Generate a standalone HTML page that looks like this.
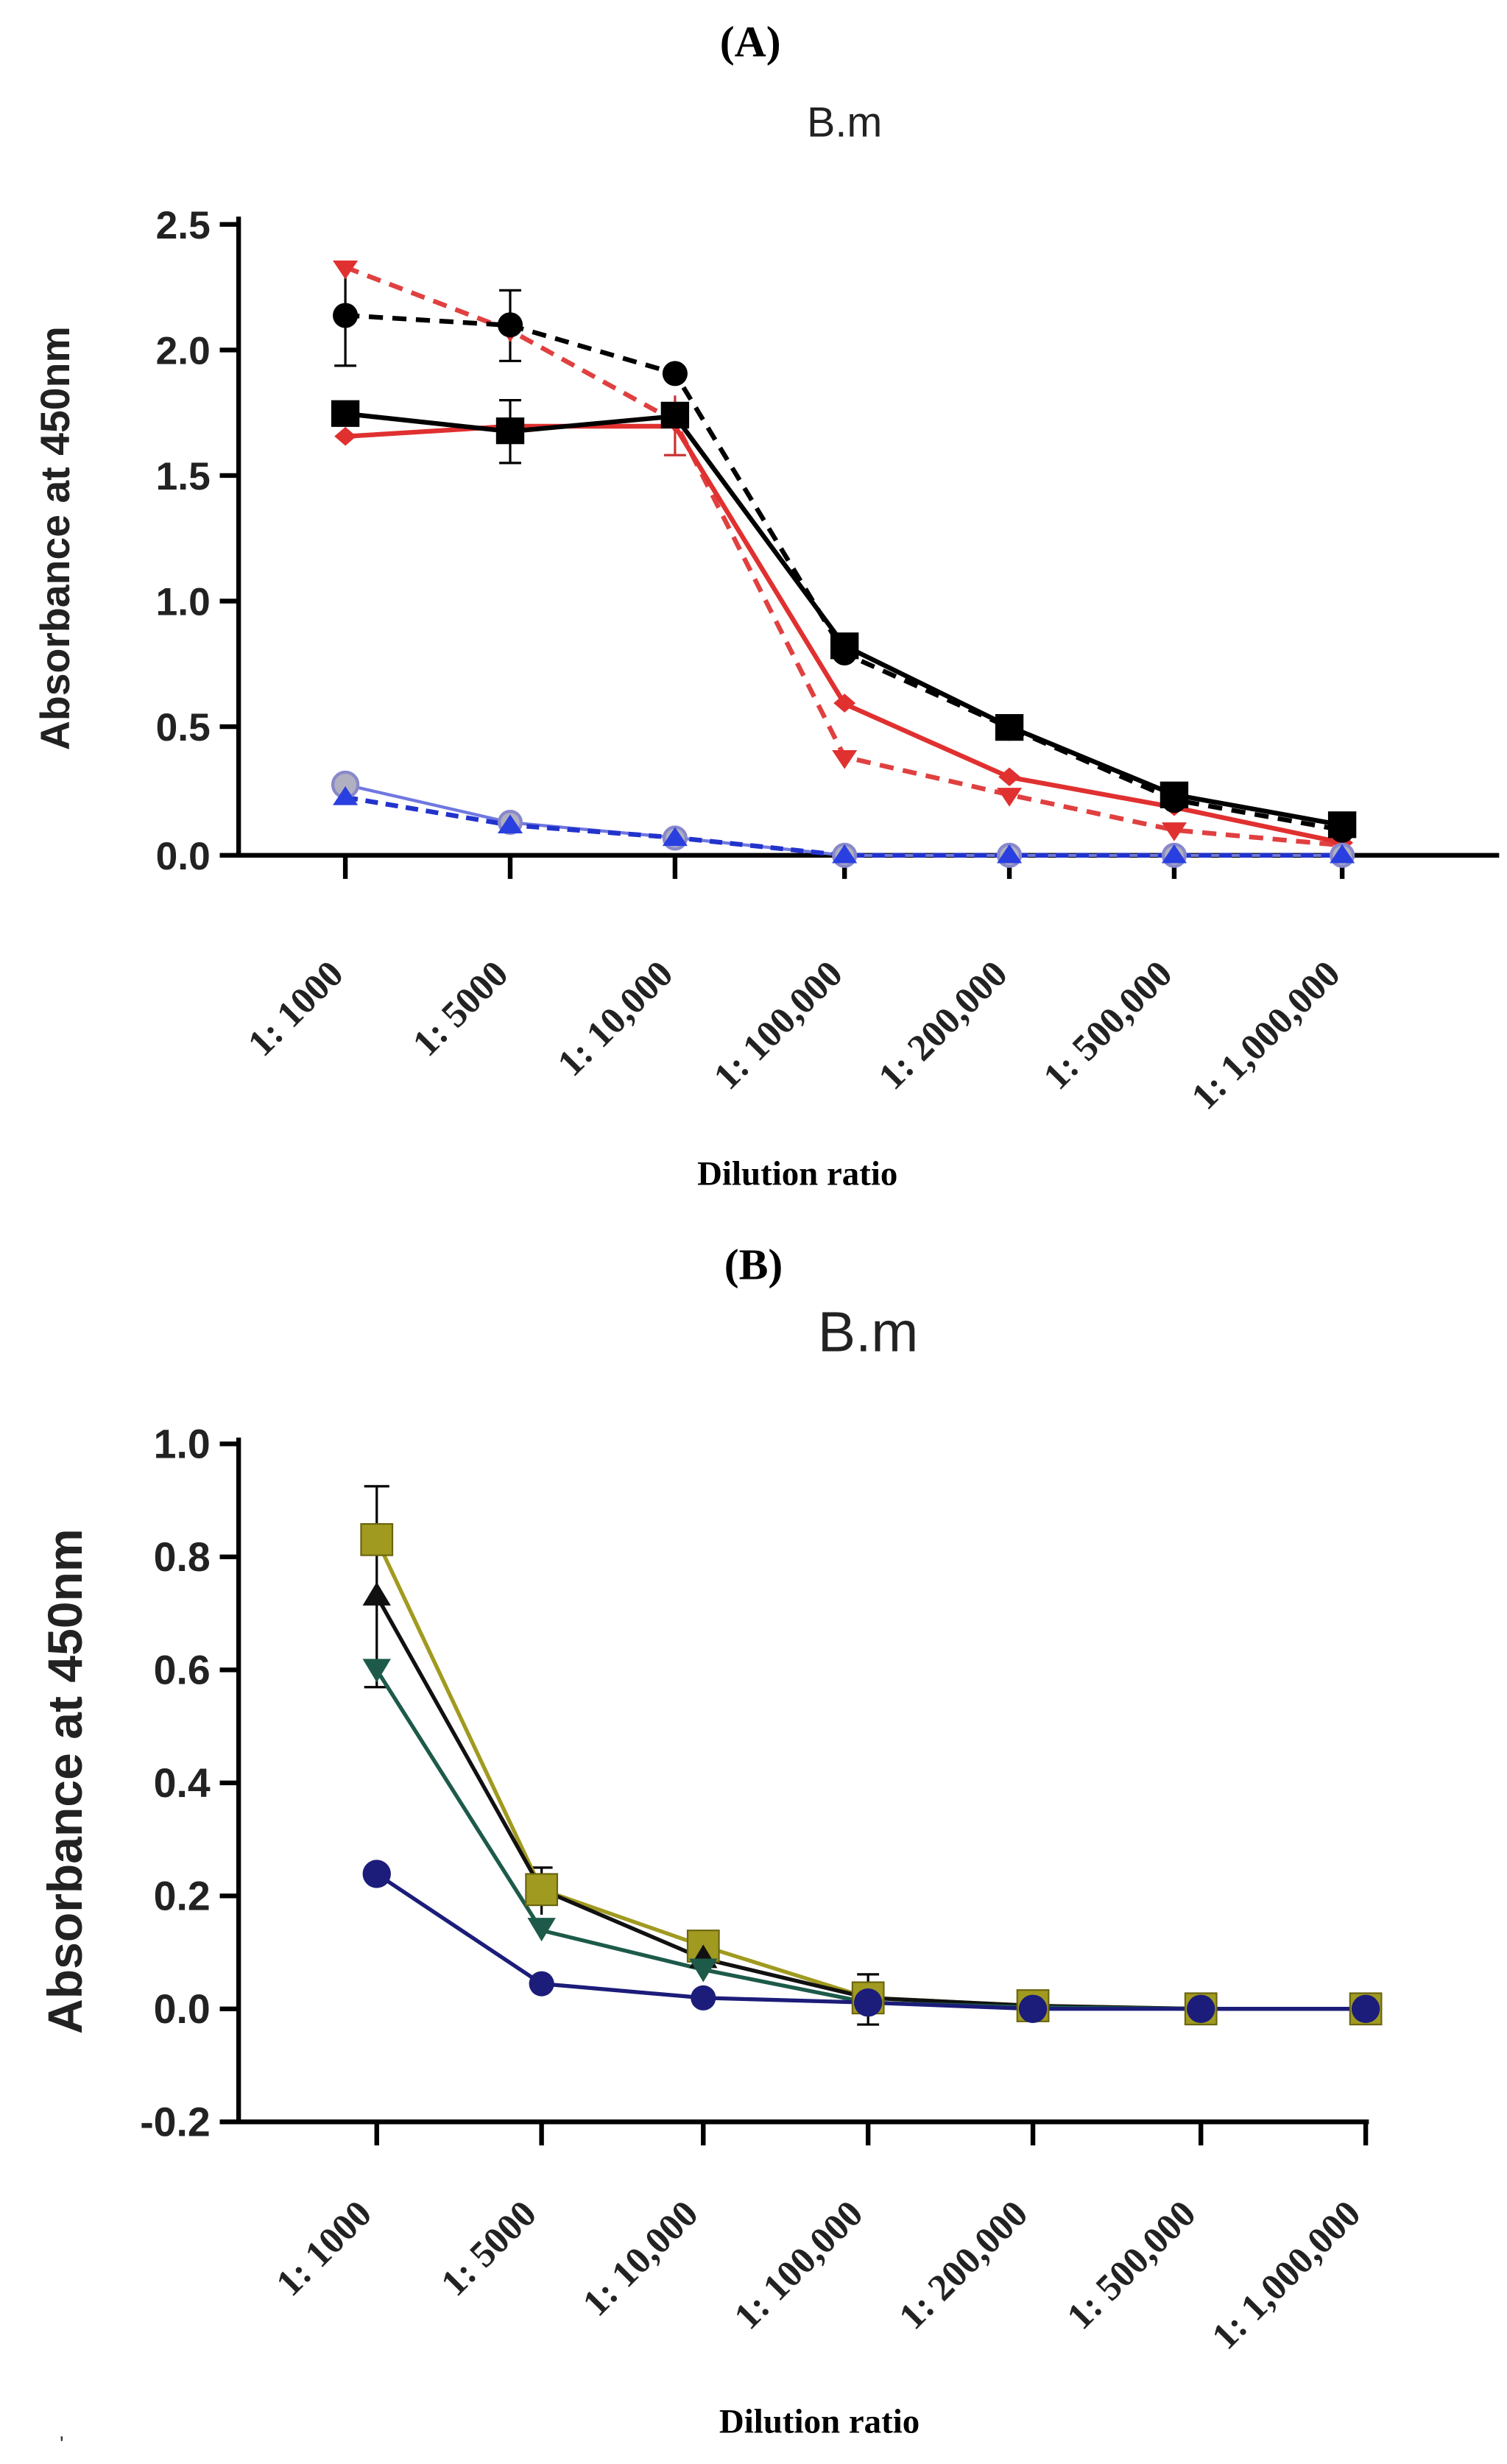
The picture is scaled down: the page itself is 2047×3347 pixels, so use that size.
<!DOCTYPE html>
<html><head><meta charset="utf-8"><style>html,body{margin:0;padding:0;background:#fff}svg{display:block}</style></head>
<body>
<svg width="2047" height="3347" viewBox="0 0 960 1570" preserveAspectRatio="none" xmlns="http://www.w3.org/2000/svg">
<rect width="960" height="1570" fill="#fff"/>
<!-- Panel A -->
<text x="478" y="36" font-family="Liberation Serif, serif" font-weight="bold" font-size="28" text-anchor="middle">(A)</text>
<text x="538" y="87" font-family="Liberation Sans, sans-serif" font-size="27" text-anchor="middle" fill="#222">B.m</text>
<g stroke="#000" stroke-width="3" fill="none">
<line x1="152" y1="138" x2="152" y2="546"/>
<line x1="150" y1="545" x2="955" y2="545"/>
<line x1="140" y1="143" x2="152" y2="143"/><line x1="140" y1="223" x2="152" y2="223"/><line x1="140" y1="303" x2="152" y2="303"/><line x1="140" y1="383" x2="152" y2="383"/><line x1="140" y1="463" x2="152" y2="463"/><line x1="140" y1="545" x2="152" y2="545"/>
<line x1="220" y1="545" x2="220" y2="560"/><line x1="325" y1="545" x2="325" y2="560"/><line x1="430" y1="545" x2="430" y2="560"/><line x1="538" y1="545" x2="538" y2="560"/><line x1="643" y1="545" x2="643" y2="560"/><line x1="748" y1="545" x2="748" y2="560"/><line x1="855" y1="545" x2="855" y2="560"/>
</g>
<g font-family="Liberation Sans, sans-serif" font-weight="bold" font-size="25" text-anchor="end" fill="#222">
<text x="134" y="152">2.5</text><text x="134" y="232">2.0</text><text x="134" y="312">1.5</text><text x="134" y="392">1.0</text><text x="134" y="472">0.5</text><text x="134" y="554">0.0</text>
</g>
<text transform="translate(44,343) rotate(-90)" font-family="Liberation Sans, sans-serif" font-weight="bold" font-size="26" text-anchor="middle" fill="#222">Absorbance at 450nm</text>
<g font-family="Liberation Serif, serif" font-weight="bold" font-size="24" text-anchor="end" fill="#222">
<text transform="translate(220,622) rotate(-45)">1: 1000</text>
<text transform="translate(325,622) rotate(-45)">1: 5000</text>
<text transform="translate(430,622) rotate(-45)">1: 10,000</text>
<text transform="translate(538,622) rotate(-45)">1: 100,000</text>
<text transform="translate(643,622) rotate(-45)">1: 200,000</text>
<text transform="translate(748,622) rotate(-45)">1: 500,000</text>
<text transform="translate(855,622) rotate(-45)">1: 1,000,000</text>
</g>
<text x="508" y="755" font-family="Liberation Serif, serif" font-weight="bold" font-size="22" text-anchor="middle">Dilution ratio</text>
<g stroke="#000" stroke-width="1.5">
<line x1="220" y1="233" x2="220" y2="170"/><line x1="213" y1="233" x2="227" y2="233"/>
<line x1="325" y1="185" x2="325" y2="230"/><line x1="318" y1="185" x2="332" y2="185"/><line x1="318" y1="230" x2="332" y2="230"/>
<line x1="325" y1="255" x2="325" y2="295"/><line x1="318" y1="255" x2="332" y2="255"/><line x1="318" y1="295" x2="332" y2="295"/>
<line x1="430" y1="252" x2="430" y2="290" stroke="#c33"/><line x1="423" y1="290" x2="437" y2="290" stroke="#c33"/>
</g>
<g fill="none" stroke-width="3">
<polyline stroke="#e04040" stroke-dasharray="9,6" points="220,170.3 325,210.5 430,268.4 538,482.3 643,506.4 748,528.9 855,538.6"/>
<polyline stroke="#e03030" points="220,278.1 325,271.6 430,271.6 538,448.5 643,495.2 748,514.4 855,537"/>
<polyline stroke="#000" stroke-dasharray="9,6" points="220,200.9 325,207.3 430,237.9 538,416.4 643,463.6 748,509.6 855,528.9"/>
<polyline stroke="#000" points="220,263.6 325,274.9 430,265.2 538,411.5 643,463 748,506.4 855,525.7"/>
<polyline stroke="#6f78e0" stroke-width="2" points="220,500 325,524.1 430,533.7 538,545 643,545 748,545 855,545"/>
<polyline stroke="#2233cc" stroke-dasharray="8,5" points="220,508 325,525.7 430,533.7 538,545 643,545 748,545 855,545"/>
</g>
<g fill="#e03030">
<path d="M212,166 h16 l-8,12z"/><path d="M317,206 h16 l-8,12z"/><path d="M422,264 h16 l-8,12z"/><path d="M530,478 h16 l-8,12z"/><path d="M635,502 h16 l-8,12z"/><path d="M740,524 h16 l-8,12z"/>
<path d="M220,272 l7,6 -7,6 -7,-6z"/><path d="M325,266 l7,6 -7,6 -7,-6z"/><path d="M538,442 l7,6 -7,6 -7,-6z"/><path d="M643,489 l7,6 -7,6 -7,-6z"/><path d="M748,508 l7,6 -7,6 -7,-6z"/><path d="M855,531 l7,6 -7,6 -7,-6z"/>
</g>
<g fill="#000">
<circle cx="220" cy="201" r="8"/><circle cx="325" cy="207" r="8"/><circle cx="430" cy="238" r="8"/><circle cx="538" cy="416" r="8"/><circle cx="643" cy="464" r="8"/><circle cx="748" cy="510" r="8"/><circle cx="855" cy="529" r="8"/>
<rect x="211" y="255" width="18" height="17"/><rect x="316" y="266" width="18" height="17"/><rect x="421" y="256" width="18" height="17"/><rect x="529" y="403" width="18" height="17"/><rect x="634" y="455" width="18" height="17"/><rect x="739" y="498" width="18" height="17"/><rect x="846" y="517" width="18" height="17"/>
</g>
<g fill="#b0b0c0" stroke="#8888cc" stroke-width="2">
<circle cx="220" cy="500" r="8"/><circle cx="325" cy="524" r="7"/><circle cx="430" cy="534" r="7"/><circle cx="538" cy="545" r="7"/><circle cx="643" cy="545" r="7"/><circle cx="748" cy="545" r="7"/><circle cx="855" cy="545" r="7"/>
</g>
<g fill="#2a3fe0">
<path d="M212,513 h16 l-8,-12z"/><path d="M317,531 h16 l-8,-12z"/><path d="M422,539 h16 l-8,-12z"/><path d="M530,550 h16 l-8,-12z"/><path d="M635,550 h16 l-8,-12z"/><path d="M740,550 h16 l-8,-12z"/><path d="M847,550 h16 l-8,-12z"/>
</g>
<!-- Panel B -->
<text x="480" y="815" font-family="Liberation Serif, serif" font-weight="bold" font-size="28" text-anchor="middle">(B)</text>
<text x="553" y="861" font-family="Liberation Sans, sans-serif" font-size="36" text-anchor="middle" fill="#222">B.m</text>
<g stroke="#000" stroke-width="3" fill="none">
<line x1="152" y1="916" x2="152" y2="1353"/>
<line x1="150" y1="1352" x2="872" y2="1352"/>
<line x1="140" y1="920" x2="152" y2="920"/><line x1="140" y1="992" x2="152" y2="992"/><line x1="140" y1="1064" x2="152" y2="1064"/><line x1="140" y1="1136" x2="152" y2="1136"/><line x1="140" y1="1208" x2="152" y2="1208"/><line x1="140" y1="1280" x2="152" y2="1280"/><line x1="140" y1="1352" x2="152" y2="1352"/>
<line x1="240" y1="1352" x2="240" y2="1367"/><line x1="345" y1="1352" x2="345" y2="1367"/><line x1="448" y1="1352" x2="448" y2="1367"/><line x1="553" y1="1352" x2="553" y2="1367"/><line x1="658" y1="1352" x2="658" y2="1367"/><line x1="765" y1="1352" x2="765" y2="1367"/><line x1="870" y1="1352" x2="870" y2="1367"/>
</g>
<g font-family="Liberation Sans, sans-serif" font-weight="bold" font-size="26" text-anchor="end" fill="#222">
<text x="134" y="929">1.0</text><text x="134" y="1001">0.8</text><text x="134" y="1073">0.6</text><text x="134" y="1145">0.4</text><text x="134" y="1217">0.2</text><text x="134" y="1289">0.0</text><text x="134" y="1361">-0.2</text>
</g>
<text transform="translate(52,1135) rotate(-90)" font-family="Liberation Sans, sans-serif" font-weight="bold" font-size="31" text-anchor="middle" fill="#222">Absorbance at 450nm</text>
<g font-family="Liberation Serif, serif" font-weight="bold" font-size="24" text-anchor="end" fill="#222">
<text transform="translate(238,1412) rotate(-45)">1: 1000</text>
<text transform="translate(343,1412) rotate(-45)">1: 5000</text>
<text transform="translate(446,1412) rotate(-45)">1: 10,000</text>
<text transform="translate(551,1412) rotate(-45)">1: 100,000</text>
<text transform="translate(656,1412) rotate(-45)">1: 200,000</text>
<text transform="translate(763,1412) rotate(-45)">1: 500,000</text>
<text transform="translate(868,1412) rotate(-45)">1: 1,000,000</text>
</g>
<text x="522" y="1550" font-family="Liberation Serif, serif" font-weight="bold" font-size="22" text-anchor="middle">Dilution ratio</text>
<text x="38" y="1562" font-family="Liberation Sans, sans-serif" font-size="14" fill="#333">'</text>
<g stroke="#000" stroke-width="1.5">
<line x1="240" y1="947" x2="240" y2="1075"/><line x1="232" y1="947" x2="248" y2="947"/><line x1="232" y1="1075" x2="248" y2="1075"/>
<line x1="345" y1="1190" x2="345" y2="1220"/><line x1="338" y1="1190" x2="352" y2="1190"/>
<line x1="553" y1="1258" x2="553" y2="1290"/><line x1="546" y1="1258" x2="560" y2="1258"/><line x1="546" y1="1290" x2="560" y2="1290"/>
</g>
<g fill="none" stroke-width="2.5">
<polyline stroke="#a09a20" points="240,981 345,1204 448,1240 553,1273 658,1278 765,1280 870,1280"/>
<polyline stroke="#111" points="240,1017 345,1204 448,1248 553,1273 658,1278 765,1280 870,1280"/>
<polyline stroke="#1d5a4a" points="240,1064 345,1230 448,1255 553,1276 658,1279 765,1280 870,1280"/>
<polyline stroke="#1c1c7a" points="240,1194 345,1264 448,1273 553,1276 658,1280 765,1280 870,1280"/>
</g>
<g fill="#a09a20" stroke="#6a6510" stroke-width="1">
<rect x="230" y="971" width="20" height="20"/><rect x="335" y="1194" width="20" height="20"/><rect x="438" y="1230" width="20" height="20"/><rect x="543" y="1263" width="20" height="20"/><rect x="648" y="1268" width="20" height="20"/><rect x="755" y="1270" width="20" height="20"/><rect x="860" y="1270" width="20" height="20"/>
</g>
<g fill="#111">
<path d="M231,1023 h18 l-9,-15z"/><path d="M439,1254 h18 l-9,-15z"/>
</g>
<g fill="#1d5a4a">
<path d="M231,1057 h18 l-9,15z"/><path d="M336,1222 h18 l-9,15z"/><path d="M439,1248 h18 l-9,15z"/>
</g>
<g fill="#1c1c7a">
<circle cx="240" cy="1194" r="9"/><circle cx="345" cy="1264" r="8"/><circle cx="448" cy="1273" r="8"/><circle cx="553" cy="1276" r="9"/><circle cx="658" cy="1280" r="9"/><circle cx="765" cy="1280" r="9"/><circle cx="870" cy="1280" r="9"/>
</g>
</svg>
</body></html>
